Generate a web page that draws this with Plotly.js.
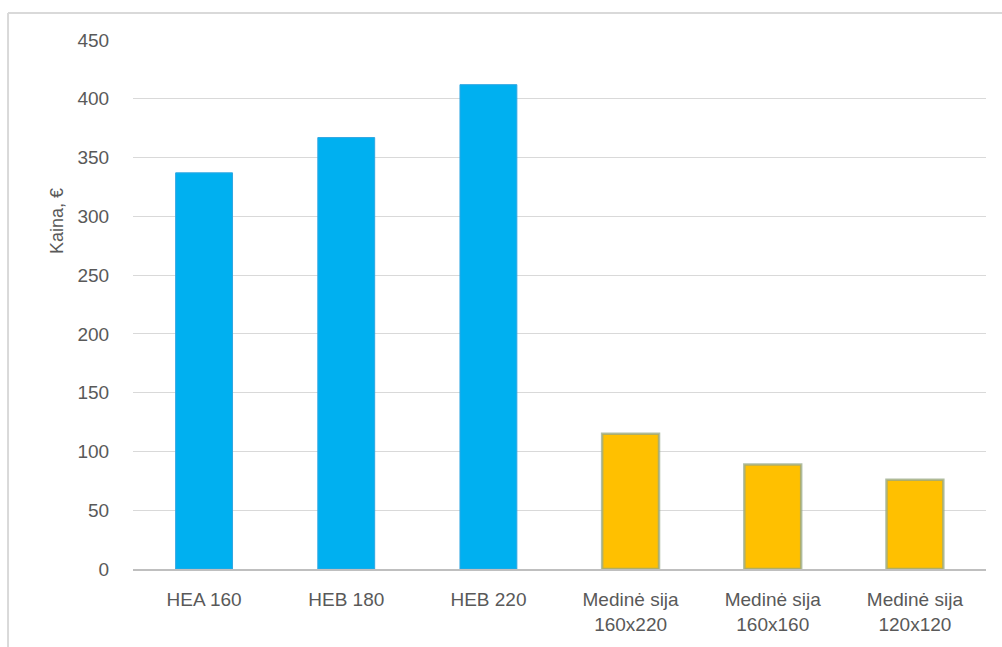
<!DOCTYPE html>
<html>
<head>
<meta charset="utf-8">
<script src="https://cdn.plot.ly/plotly-3.0.1.min.js"></script>
<style>
  html, body { margin: 0; padding: 0; background: #ffffff; }
  #chart { width: 1002px; height: 647px; }
</style>
</head>
<body>
<div id="chart"></div>
<script>
// Beam price comparison: steel profiles vs timber beams
const categories = ["HEA 160", "HEB 180", "HEB 220", "Medinė sija<br>160x220", "Medinė sija<br>160x160", "Medinė sija<br>120x120"];
const prices = [337, 367, 412, 115, 89, 76];
const materials = ["steel", "steel", "steel", "wood", "wood", "wood"];
const yTicks = [0, 50, 100, 150, 200, 250, 300, 350, 400, 450];

const fillByMaterial = { steel: "#00b0f0", wood: "#ffc000" };
const edgeByMaterial = { steel: "#2fa6e2", wood: "rgba(150,168,135,0.75)" };
const edgeWidthByMaterial = { steel: 1, wood: 2.5 };

const trace = {
  type: "bar",
  x: categories,
  y: prices,
  marker: {
    color: materials.map(m => fillByMaterial[m]),
    line: {
      color: materials.map(m => edgeByMaterial[m]),
      width: materials.map(m => edgeWidthByMaterial[m])
    }
  },
  hoverinfo: "x+y"
};

const tickFont = { family: "Liberation Sans, Arial, sans-serif", size: 19, color: "#595959" };

const layout = {
  width: 1002,
  height: 647,
  margin: { l: 133, r: 16, t: 40, b: 78 },
  paper_bgcolor: "#ffffff",
  plot_bgcolor: "#ffffff",
  showlegend: false,
  bargap: 0.6,
  xaxis: {
    type: "category",
    showgrid: false,
    showline: true,
    linecolor: "#bfbfbf",
    linewidth: 2,
    ticks: "outside",
    ticklen: 12,
    tickcolor: "rgba(0,0,0,0)",
    tickfont: tickFont,
    fixedrange: true
  },
  yaxis: {
    range: [0, 450],
    tickvals: yTicks,
    ticktext: yTicks.map(String),
    showgrid: true,
    gridcolor: "#d9d9d9",
    gridwidth: 1,
    zeroline: false,
    showline: false,
    ticks: "outside",
    ticklen: 19,
    tickcolor: "rgba(0,0,0,0)",
    tickfont: tickFont,
    fixedrange: true
  },
  annotations: [{
    text: "Kaina, €",
    textangle: -90,
    xref: "paper", yref: "paper",
    x: -0.089, y: 0.658,
    xanchor: "center", yanchor: "middle",
    showarrow: false,
    font: { family: "Liberation Sans, Arial, sans-serif", size: 18, color: "#595959" }
  }],
  shapes: [
    { type: "line", xref: "paper", yref: "paper", x0: -0.1465, x1: -0.1465, y0: -0.3, y1: 1.051,
      line: { color: "#d9d9d9", width: 2 } },
    { type: "line", xref: "paper", yref: "paper", x0: -0.1465, x1: 1.05, y0: 1.051, y1: 1.051,
      line: { color: "#d9d9d9", width: 2 } }
  ]
};

Plotly.newPlot("chart", [trace], layout, { displayModeBar: false, staticPlot: true });
</script>
</body>
</html>
